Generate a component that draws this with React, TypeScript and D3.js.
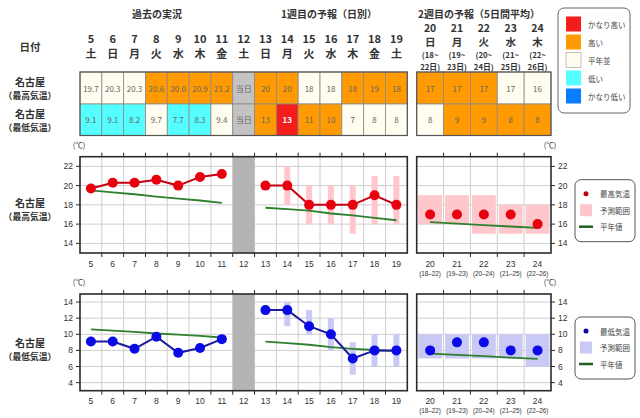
import * as React from 'react'
import * as d3 from 'd3'

const FONT = '"Noto Sans CJK JP", "Noto Sans", sans-serif'
const NUM_FONT = '"Liberation Sans", Arial, sans-serif'

// days shown in the first block (past + today + week 1)
const days = [5, 6, 7, 8, 9, 10, 11, 12, 13, 14, 15, 16, 17, 18, 19]
const weekdays = ['土', '日', '月', '火', '水', '木', '金', '土', '日', '月', '火', '水', '木', '金', '土']
const pastDays = [5, 6, 7, 8, 9, 10, 11]
const todayDay = 12
const week1Days = [13, 14, 15, 16, 17, 18, 19]

// week 2: five-day averages
const week2Days = [20, 21, 22, 23, 24]
const week2Weekdays = ['日', '月', '火', '水', '木']
const week2From = [18, 19, 20, 21, 22]
const week2To = [22, 23, 24, 25, 26]

// max temperature
const maxObserved = [19.7, 20.3, 20.3, 20.6, 20.0, 20.9, 21.2]
const maxForecast = [20, 20, 18, 18, 18, 19, 18]
const maxRangeLow = [null, 18, 16, 16, 15, 16, 16]
const maxRangeHigh = [null, 22, 20, 20, 20, 21, 21]
const maxNormalPast = [19.5, 19.3, 19.1, 18.85, 18.65, 18.45, 18.2]
const maxNormalWeek1 = [17.7, 17.55, 17.4, 17.1, 16.9, 16.65, 16.4]
const maxWeek2 = [17, 17, 17, 17, 16]
const maxWeek2Low = [16, 16, 15, 15, 15]
const maxWeek2High = [19, 19, 19, 18, 18]
const maxNormalWeek2 = [16.2, 16.05, 15.9, 15.75, 15.6]
const maxLevelPast = ['n', 'n', 'n', 'h', 'h', 'h', 'h']
const maxLevelWeek1 = ['h', 'h', 'n', 'n', 'h', 'h', 'h']
const maxLevelWeek2 = ['h', 'h', 'h', 'n', 'n']

// min temperature
const minObserved = [9.1, 9.1, 8.2, 9.7, 7.7, 8.3, 9.4]
const minForecast = [13, 13, 11, 10, 7, 8, 8]
const minRangeLow = [null, 11, 10, 8, 5, 6, 6]
const minRangeHigh = [null, 14, 13, 12, 9, 10, 10]
const minNormalPast = [10.6, 10.45, 10.3, 10.1, 9.95, 9.8, 9.6]
const minNormalWeek1 = [9.1, 8.9, 8.7, 8.4, 8.2, 8.05, 7.9]
const minWeek2 = [8, 9, 9, 8, 8]
const minWeek2Low = [7, 7, 7, 7, 6]
const minWeek2High = [10, 10, 10, 10, 10]
const minNormalWeek2 = [7.6, 7.45, 7.3, 7.1, 6.95]
const minLevelPast = ['l', 'l', 'l', 'n', 'l', 'l', 'n']
const minLevelWeek1 = ['h', 'vh', 'h', 'h', 'n', 'n', 'n']
const minLevelWeek2 = ['n', 'h', 'h', 'h', 'h']

const levelKeys = ['vh', 'h', 'n', 'l', 'vl']
const levelLabels = ['かなり高い', '高い', '平年並', '低い', 'かなり低い']
const levelFill: Record<string, string> = {
  vh: '#f51c1c',
  h: '#ff9a00',
  n: '#fffcf0',
  l: '#55ffff',
  vl: '#0a7cff',
}

const xDay = d3.scaleBand<number>().domain(days).range([80, 407.3])
const xWeek2 = d3.scaleBand<number>().domain(week2Days).range([416.7, 551])

const ROW1 = [72, 104]
const ROW2 = [104, 135.5]

interface ChartProps {
  top: number
  bottom: number
  domain: [number, number]
  ticks: number[]
  observed: number[]
  forecast: number[]
  rangeLow: (number | null)[]
  rangeHigh: (number | null)[]
  normalPast: number[]
  normalWeek1: number[]
  week2: number[]
  week2Low: number[]
  week2High: number[]
  normalWeek2: number[]
  dotColor: string
  lineColor: string
  rangeColor: string
  legendDot: string
  seriesLabel: string
}

function TempChart(p: ChartProps) {
  const y = d3.scaleLinear().domain(p.domain).range([p.bottom, p.top])
  const cx = (d: number) => (xDay(d) as number) + xDay.bandwidth() / 2
  const cx2 = (d: number) => (xWeek2(d) as number) + xWeek2.bandwidth() / 2
  const line = d3.line<[number, number]>().x(d => d[0]).y(d => d[1])

  const leftBounds = days.map(d => xDay(d) as number).concat([xDay.range()[1]])
  const rightBounds = week2Days.map(d => xWeek2(d) as number).concat([xWeek2.range()[1]])
  const [l0, l1] = xDay.range()
  const [r0, r1] = xWeek2.range()
  const grid = '#cfcfcf'

  const obsPts = pastDays.map((d, i) => [cx(d), y(p.observed[i])] as [number, number])
  const fcPts = week1Days.map((d, i) => [cx(d), y(p.forecast[i])] as [number, number])

  return (
    <g>
      {/* gridlines */}
      {p.ticks.map(t => (
        <g key={'h' + t}>
          <line x1={l0} x2={l1} y1={y(t)} y2={y(t)} stroke={grid} />
          <line x1={r0} x2={r1} y1={y(t)} y2={y(t)} stroke={grid} />
        </g>
      ))}
      {leftBounds.slice(1, -1).map(x => (
        <line key={'vl' + x} x1={x} x2={x} y1={p.top} y2={p.bottom} stroke={grid} />
      ))}
      {rightBounds.slice(1, -1).map(x => (
        <line key={'vr' + x} x1={x} x2={x} y1={p.top} y2={p.bottom} stroke={grid} />
      ))}

      {/* today column */}
      <rect x={xDay(todayDay)} y={p.top} width={xDay.bandwidth()} height={p.bottom - p.top} fill="#b4b4b4" />

      {/* forecast ranges */}
      {week1Days.map((d, i) =>
        p.rangeLow[i] == null ? null : (
          <rect key={'r' + d} x={cx(d) - 3} width={6}
            y={y(p.rangeHigh[i] as number)} height={y(p.rangeLow[i] as number) - y(p.rangeHigh[i] as number)}
            fill={p.rangeColor} />
        )
      )}
      {week2Days.map((d, i) => (
        <rect key={'r2' + d} x={(xWeek2(d) as number) + 1.5} width={xWeek2.bandwidth() - 3}
          y={y(p.week2High[i])} height={y(p.week2Low[i]) - y(p.week2High[i])}
          fill={p.rangeColor} />
      ))}

      {/* normals */}
      <path d={line(pastDays.map((d, i) => [cx(d), y(p.normalPast[i])])) || ''} fill="none" stroke="#2f7f2f" strokeWidth={1.8} />
      <path d={line(week1Days.map((d, i) => [cx(d), y(p.normalWeek1[i])])) || ''} fill="none" stroke="#2f7f2f" strokeWidth={1.8} />
      <path d={line(week2Days.map((d, i) => [cx2(d), y(p.normalWeek2[i])])) || ''} fill="none" stroke="#2f7f2f" strokeWidth={1.8} />

      {/* observed & forecast */}
      <path d={line(obsPts) || ''} fill="none" stroke={p.lineColor} strokeWidth={2} />
      <path d={line(fcPts) || ''} fill="none" stroke={p.lineColor} strokeWidth={2} />
      {obsPts.concat(fcPts).map((pt, i) => (
        <circle key={'c' + i} cx={pt[0]} cy={pt[1]} r={5} fill={p.dotColor} />
      ))}
      {week2Days.map((d, i) => (
        <circle key={'c2' + d} cx={cx2(d)} cy={y(p.week2[i])} r={5} fill={p.dotColor} />
      ))}

      {/* frames and ticks */}
      <rect x={l0} y={p.top} width={l1 - l0} height={p.bottom - p.top} fill="none" stroke="#2a2a2a" strokeWidth={1.6} />
      <rect x={r0} y={p.top} width={r1 - r0} height={p.bottom - p.top} fill="none" stroke="#2a2a2a" strokeWidth={1.6} />
      {leftBounds.slice(1, -1).concat(rightBounds.slice(1, -1)).map(x => (
        <g key={'t' + x}>
          <line x1={x} x2={x} y1={p.top - 4} y2={p.top} stroke="#2a2a2a" />
          <line x1={x} x2={x} y1={p.bottom} y2={p.bottom + 4} stroke="#2a2a2a" />
        </g>
      ))}
      {p.ticks.map(t => (
        <g key={'yt' + t} fontFamily={NUM_FONT} fontSize={8.5} fill="#333">
          <line x1={l0 - 4} x2={l0} y1={y(t)} y2={y(t)} stroke="#2a2a2a" />
          <line x1={r1} x2={r1 + 4} y1={y(t)} y2={y(t)} stroke="#2a2a2a" />
          <text x={l0 - 7} y={y(t)} textAnchor="end" dominantBaseline="central">{t}</text>
          <text x={r1 + 7} y={y(t)} dominantBaseline="central">{t}</text>
        </g>
      ))}
      <text x={79} y={p.top - 9} textAnchor="middle" fontSize={7.5} fontFamily={FONT} fill="#333">(℃)</text>
      <text x={550} y={p.top - 9} textAnchor="middle" fontSize={7.5} fontFamily={FONT} fill="#333">(℃)</text>

      {/* x labels */}
      {days.map(d => (
        <text key={'x' + d} x={cx(d)} y={p.bottom + 10.5} textAnchor="middle" dominantBaseline="central"
          fontFamily={NUM_FONT} fontSize={8.5} fill="#333">{d}</text>
      ))}
      {week2Days.map((d, i) => (
        <g key={'x2' + d}>
          <text x={cx2(d)} y={p.bottom + 10.5} textAnchor="middle" dominantBaseline="central"
            fontFamily={NUM_FONT} fontSize={8.5} fill="#333">{d}</text>
          <text x={cx2(d)} y={p.bottom + 20} textAnchor="middle" dominantBaseline="central"
            fontFamily={NUM_FONT} fontSize={6.3} fill="#333">{`(${week2From[i]}–${week2To[i]})`}</text>
        </g>
      ))}

      {/* legend */}
      <rect x={575} y={p.top + 23} width={60} height={62} rx={6} fill="#fff" stroke="#555" />
      <circle cx={586} cy={p.top + 37} r={2.5} fill={p.legendDot} />
      <rect x={580} y={p.top + 47.5} width={12} height={12} fill={p.rangeColor} />
      <line x1={579} x2={593} y1={p.top + 70} y2={p.top + 70} stroke="#1f5f1f" strokeWidth={2.5} />
      <g fontFamily={FONT} fontSize={7.5} fill="#444">
        <text x={600} y={p.top + 37} dominantBaseline="central">{p.seriesLabel}</text>
        <text x={600} y={p.top + 53.5} dominantBaseline="central">予測範囲</text>
        <text x={600} y={p.top + 70} dominantBaseline="central">平年値</text>
      </g>
    </g>
  )
}

function TableRow({ rows, past, week1, week2, levelPast, levelWeek1, levelWeek2 }: {
  rows: number[]
  past: number[]
  week1: number[]
  week2: number[]
  levelPast: string[]
  levelWeek1: string[]
  levelWeek2: string[]
}) {
  const [y0, y1] = rows
  const cells: { x: number; w: number; fill: string; text: string; bold: boolean }[] = []
  pastDays.forEach((d, i) => cells.push({ x: xDay(d) as number, w: xDay.bandwidth(), fill: levelFill[levelPast[i]], text: past[i].toFixed(1), bold: false }))
  cells.push({ x: xDay(todayDay) as number, w: xDay.bandwidth(), fill: '#c3c3c3', text: '当日', bold: false })
  week1Days.forEach((d, i) => cells.push({ x: xDay(d) as number, w: xDay.bandwidth(), fill: levelFill[levelWeek1[i]], text: String(week1[i]), bold: levelWeek1[i] === 'vh' }))
  week2Days.forEach((d, i) => cells.push({ x: xWeek2(d) as number, w: xWeek2.bandwidth(), fill: levelFill[levelWeek2[i]], text: String(week2[i]), bold: levelWeek2[i] === 'vh' }))
  return (
    <g>
      {cells.map((c, i) => (
        <g key={i}>
          <rect x={c.x} y={y0} width={c.w} height={y1 - y0} fill={c.fill} stroke="#8a8a8a" strokeWidth={0.8} />
          <text x={c.x + c.w / 2} y={(y0 + y1) / 2} textAnchor="middle" dominantBaseline="central"
            fontFamily={FONT} fontSize={8} fontWeight={c.bold ? 700 : 400} fill={c.bold ? '#fff' : '#666'}>{c.text}</text>
        </g>
      ))}
    </g>
  )
}

export default function App() {
  const hdr = { fontFamily: FONT, fontWeight: 700, fill: '#333' } as const
  const cx = (d: number) => (xDay(d) as number) + xDay.bandwidth() / 2
  const cx2 = (d: number) => (xWeek2(d) as number) + xWeek2.bandwidth() / 2
  return (
    <div style={{ position: 'absolute', left: 0, top: 0 }}>
      <svg width={640} height={418} style={{ display: 'block', background: '#fff' }}>
        {/* section headings */}
        <g {...hdr} fontSize={10} textAnchor="middle">
          <text x={157} y={13} dominantBaseline="central">過去の実況</text>
          <text x={329} y={13} dominantBaseline="central">1週目の予報（日別）</text>
          <text x={479} y={13} dominantBaseline="central">2週目の予報（5日間平均）</text>
        </g>
        <text {...hdr} x={30} y={46} fontSize={10.5} textAnchor="middle" dominantBaseline="central">日付</text>
        {days.map((d, i) => (
          <g key={'d' + d} {...hdr} fontSize={11} textAnchor="middle">
            <text x={cx(d)} y={38} dominantBaseline="central">{d}</text>
            <text x={cx(d)} y={53} dominantBaseline="central">{weekdays[i]}</text>
          </g>
        ))}
        {week2Days.map((d, i) => (
          <g key={'w' + d} {...hdr} textAnchor="middle">
            <text x={cx2(d)} y={27} fontSize={10.5} dominantBaseline="central">{d}</text>
            <text x={cx2(d)} y={41} fontSize={10.5} dominantBaseline="central">{week2Weekdays[i]}</text>
            <text x={cx2(d)} y={54} fontSize={7.8} dominantBaseline="central">{`(${week2From[i]}~`}</text>
            <text x={cx2(d)} y={66} fontSize={7.8} dominantBaseline="central">{`${week2To[i]}日)`}</text>
          </g>
        ))}

        {/* row labels */}
        <g {...hdr} textAnchor="middle">
          <text x={30} y={81} fontSize={10} dominantBaseline="central">名古屋</text>
          <text x={30} y={95} fontSize={8.8} dominantBaseline="central">（最高気温）</text>
          <text x={30} y={113} fontSize={10} dominantBaseline="central">名古屋</text>
          <text x={30} y={127} fontSize={8.8} dominantBaseline="central">（最低気温）</text>
          <text x={30} y={202} fontSize={10} dominantBaseline="central">名古屋</text>
          <text x={30} y={216} fontSize={8.8} dominantBaseline="central">（最高気温）</text>
          <text x={30} y={342} fontSize={10} dominantBaseline="central">名古屋</text>
          <text x={30} y={356} fontSize={8.8} dominantBaseline="central">（最低気温）</text>
        </g>

        <TableRow rows={ROW1} past={maxObserved} week1={maxForecast} week2={maxWeek2}
          levelPast={maxLevelPast} levelWeek1={maxLevelWeek1} levelWeek2={maxLevelWeek2} />
        <TableRow rows={ROW2} past={minObserved} week1={minForecast} week2={minWeek2}
          levelPast={minLevelPast} levelWeek1={minLevelWeek1} levelWeek2={minLevelWeek2} />
        <rect x={80} y={ROW1[0]} width={407.3 - 80} height={ROW2[1] - ROW1[0]} fill="none" stroke="#555" strokeWidth={1.2} />
        <rect x={416.7} y={ROW1[0]} width={551 - 416.7} height={ROW2[1] - ROW1[0]} fill="none" stroke="#555" strokeWidth={1.2} />

        {/* level legend */}
        <rect x={558} y={8} width={72} height={105} rx={6} fill="#fff" stroke="#666" />
        {levelKeys.map((k, i) => (
          <g key={k}>
            <rect x={566} y={16.5 + i * 18} width={15} height={15} fill={levelFill[k]} stroke={k === 'n' ? '#999' : 'none'} strokeWidth={0.6} />
            <text x={588} y={24 + i * 18} dominantBaseline="central" fontFamily={FONT} fontSize={7.5} fill="#444">{levelLabels[i]}</text>
          </g>
        ))}

        <TempChart top={156.7} bottom={253} domain={[13, 23]} ticks={[14, 16, 18, 20, 22]}
          observed={maxObserved} forecast={maxForecast} rangeLow={maxRangeLow} rangeHigh={maxRangeHigh}
          normalPast={maxNormalPast} normalWeek1={maxNormalWeek1}
          week2={maxWeek2} week2Low={maxWeek2Low} week2High={maxWeek2High} normalWeek2={maxNormalWeek2}
          dotColor="#e8000e" lineColor="#c40010" rangeColor="#ffc6cb" legendDot="#c00010" seriesLabel="最高気温" />
        <TempChart top={294} bottom={390.7} domain={[3, 15]} ticks={[4, 6, 8, 10, 12, 14]}
          observed={minObserved} forecast={minForecast} rangeLow={minRangeLow} rangeHigh={minRangeHigh}
          normalPast={minNormalPast} normalWeek1={minNormalWeek1}
          week2={minWeek2} week2Low={minWeek2Low} week2High={minWeek2High} normalWeek2={minNormalWeek2}
          dotColor="#0a0ae6" lineColor="#1c1c9c" rangeColor="#c9c9f5" legendDot="#0a0aa0" seriesLabel="最低気温" />
      </svg>
    </div>
  )
}
